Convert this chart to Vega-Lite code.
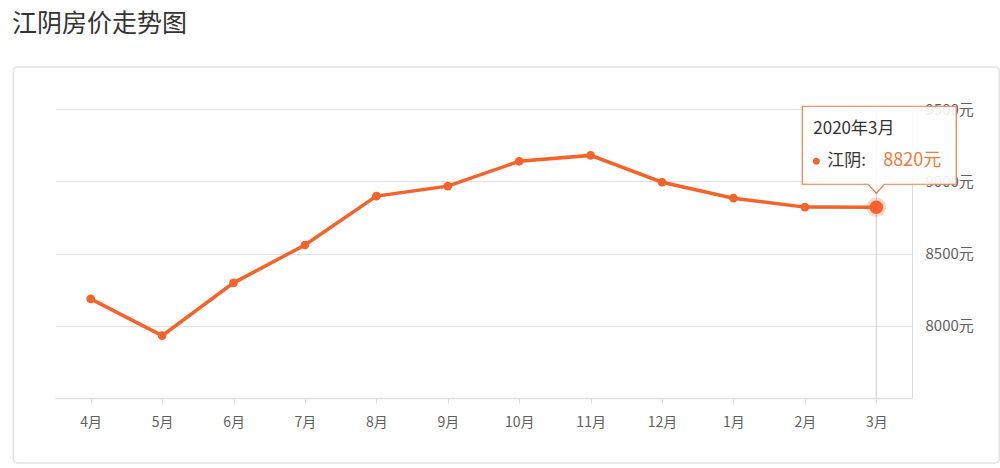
{
  "$schema": "https://vega.github.io/schema/vega-lite/v6.json",
  "width": 857,
  "height": 289,
  "autosize": {"type": "none"},
  "padding": {"left": 55, "top": 109, "right": 88, "bottom": 70},
  "background": "white",
  "title": {
    "text": "江阴房价走势图",
    "anchor": "start",
    "frame": "group",
    "dx": -43,
    "offset": 27,
    "fontSize": 25,
    "fontWeight": "normal",
    "font": "Noto Sans CJK SC",
    "color": "#333333"
  },
  "config": {
    "view": {"stroke": null},
    "font": "Noto Sans CJK SC"
  },
  "data": {
    "values": [
      {"month": "4月", "price": 8186},
      {"month": "5月", "price": 7932},
      {"month": "6月", "price": 8297},
      {"month": "7月", "price": 8559},
      {"month": "8月", "price": 8897},
      {"month": "9月", "price": 8966},
      {"month": "10月", "price": 9138},
      {"month": "11月", "price": 9179},
      {"month": "12月", "price": 8993},
      {"month": "1月", "price": 8883},
      {"month": "2月", "price": 8821},
      {"month": "3月", "price": 8820}
    ]
  },
  "encoding": {
    "x": {
      "field": "month",
      "type": "ordinal",
      "sort": ["4月", "5月", "6月", "7月", "8月", "9月", "10月", "11月", "12月", "1月", "2月", "3月"],
      "scale": {"type": "point", "padding": 0.5},
      "axis": {
        "title": null,
        "labelAngle": 0,
        "labelColor": "#5f5f5f",
        "labelFontSize": 14,
        "labelPadding": 12,
        "domainColor": "#dddddd",
        "domainWidth": 1.5,
        "tickColor": "#dddddd",
        "tickSize": 5,
        "grid": false
      }
    },
    "y": {
      "field": "price",
      "type": "quantitative",
      "scale": {"domain": [7500, 9500], "nice": false, "zero": false},
      "axis": {
        "orient": "right",
        "title": null,
        "values": [8000, 8500, 9000, 9500],
        "labelExpr": "datum.value + '元'",
        "labelColor": "#5f5f5f",
        "labelFontSize": 15,
        "labelPadding": 13,
        "ticks": false,
        "tickSize": 0,
        "domainColor": "#dddddd",
        "gridColor": "#e3e3e3",
        "gridWidth": 1
      }
    }
  },
  "layer": [
    {
      "transform": [{"filter": "datum.month == '3月'"}],
      "mark": {
        "type": "point",
        "shape": "M-859,-331 H119 A4,4 0 0 1 123,-327 V61 A4,4 0 0 1 119,65 H-859 A4,4 0 0 1 -863,61 V-327 A4,4 0 0 1 -859,-331 Z",
        "size": 4,
        "filled": false,
        "fill": null,
        "stroke": "#e2e2e2",
        "strokeWidth": 1.5,
        "opacity": 1
      },
      "encoding": {
        "y": {"datum": 7500, "type": "quantitative"}
      }
    },
    {
      "transform": [{"filter": "datum.month == '3月'"}],
      "mark": {"type": "rule", "color": "#cccccc", "strokeWidth": 1},
      "encoding": {
        "y": {"datum": 9500, "type": "quantitative"},
        "y2": {"datum": 7500}
      }
    },
    {
      "mark": {"type": "line", "color": "#f5622a", "strokeWidth": 3.5}
    },
    {
      "mark": {"type": "point", "filled": true, "opacity": 1, "color": "#f5622a", "size": 75}
    },
    {
      "transform": [{"filter": "datum.month == '3月'"}],
      "mark": {"type": "point", "filled": true, "opacity": 0.25, "color": "#f5622a", "size": 380}
    },
    {
      "transform": [{"filter": "datum.month == '3月'"}],
      "mark": {"type": "point", "filled": true, "opacity": 1, "color": "#f5622a", "size": 180}
    },
    {
      "transform": [{"filter": "datum.month == '3月'"}],
      "mark": {
        "type": "point",
        "shape": "M-74,-101 H80 V-23 H8 L0,-14 L-8,-23 H-74 Z",
        "size": 4,
        "filled": false,
        "fill": "#ffffff",
        "fillOpacity": 0.88,
        "stroke": "#f07a4a",
        "strokeWidth": 1.2,
        "opacity": 1
      }
    },
    {
      "transform": [{"filter": "datum.month == '3月'"}],
      "mark": {
        "type": "point",
        "shape": "M-63.5,-46 a3.5,3.5 0 1,0 7,0 a3.5,3.5 0 1,0 -7,0 Z",
        "size": 4,
        "filled": true,
        "color": "#f5622a",
        "opacity": 1
      }
    },
    {
      "transform": [{"filter": "datum.month == '3月'"}],
      "mark": {
        "type": "text",
        "text": "2020年3月",
        "align": "left",
        "baseline": "middle",
        "dx": -63,
        "dy": -78,
        "fontSize": 17,
        "color": "#333333"
      }
    },
    {
      "transform": [{"filter": "datum.month == '3月'"}],
      "mark": {
        "type": "text",
        "text": "江阴:",
        "align": "left",
        "baseline": "middle",
        "dx": -49,
        "dy": -46,
        "fontSize": 17,
        "color": "#333333"
      }
    },
    {
      "transform": [
        {"filter": "datum.month == '3月'"},
        {"calculate": "datum.price + '元'", "as": "label"}
      ],
      "mark": {
        "type": "text",
        "align": "left",
        "baseline": "middle",
        "dx": 7,
        "dy": -46,
        "fontSize": 18,
        "color": "#f07a3a"
      },
      "encoding": {"text": {"field": "label"}}
    }
  ]
}
